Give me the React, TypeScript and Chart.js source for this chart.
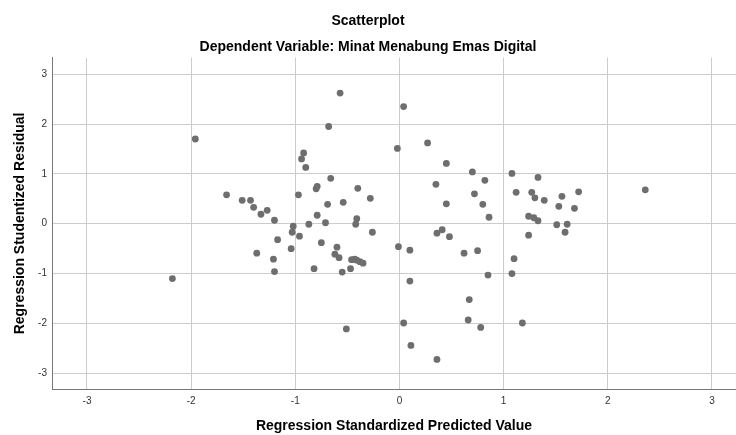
import React, { useEffect, useRef } from "react";
import { Chart, registerables } from "chart.js";

Chart.register(...registerables);

const titleText = "Scatterplot";
const subtitleText = "Dependent Variable: Minat Menabung Emas Digital";
const xAxisTitle = "Regression Standardized Predicted Value";
const yAxisTitle = "Regression Studentized Residual";

const xTicks = [-3, -2, -1, 0, 1, 2, 3];
const yTicks = [-3, -2, -1, 0, 1, 2, 3];

// Regression standardized predicted values
const predicted = [
  -2.18, -1.96, -1.66, -1.51, -1.43, -1.4, -1.33, -1.27, -1.2, -1.17,
  -1.37, -1.21, -1.2, -1.04, -1.03, -1.02, -0.96, -0.97, -0.92, -0.94,
  -0.9, -0.87, -0.82, -0.8, -0.79, -0.79, -0.75, -0.71, -0.69, -0.68,
  -0.66, -0.62, -0.6, -0.58, -0.57, -0.55, -0.54, -0.51, -0.47, -0.46,
  -0.43, -0.41, -0.38, -0.35, -0.41, -0.42, -0.4, -0.28, -0.26,
  -0.02, 0.04, -0.01, 0.1, 0.1, 0.04, 0.11, 0.36, 0.27, 0.45,
  0.35, 0.45, 0.36, 0.41, 0.48, 0.62, 0.75, 0.7, 0.82, 0.72,
  0.8, 0.86, 0.85, 0.67, 0.66, 0.78,
  1.08, 1.12, 1.1, 1.08, 1.18, 1.33, 1.27, 1.3, 1.39, 1.56,
  1.72, 1.53, 1.68, 1.24, 1.29, 1.33, 1.51, 1.61, 1.59, 1.24, 2.36,
];

// Regression studentized residuals
const residual = [
  -1.1, 1.7, 0.58, 0.47, 0.47, 0.33, 0.19, 0.27, 0.07, -0.32,
  -0.59, -0.71, -0.96, -0.5, -0.17, -0.05, -0.25, 0.58, 1.42, 1.3,
  1.13, -0.01, -0.9, 0.7, 0.75, 0.17, -0.38, 0.02, 0.39, 1.95,
  0.91, -0.61, -0.47, -0.68, 2.62, -0.97, 0.43, -2.11, -0.9, -0.72,
  -0.71, -0.73, -0.76, -0.79, 0.1, -0.01, 0.71, 0.51, -0.17,
  1.51, 2.35, -0.46, -0.53, -1.15, -1.99, -2.44, -2.72, 1.62, 1.21,
  0.79, 0.4, -0.19, -0.12, -0.26, -0.59, -0.54, 1.04, 0.87, 0.6,
  0.39, 0.13, -1.03, -1.52, -1.93, -2.08,
  1.01, 0.63, -0.7, -1.0, -1.99, 0.93, 0.63, 0.52, 0.47, 0.55,
  0.64, 0.35, 0.31, 0.15, 0.12, 0.06, -0.02, -0.01, -0.17, -0.23, 0.68,
];

const FONT = "'Liberation Sans', Arial, sans-serif";

export default function App() {
  const ref = useRef<HTMLCanvasElement | null>(null);

  useEffect(() => {
    document.body.style.margin = "0";
    const canvas = ref.current;
    if (!canvas) return;
    const points = predicted.map((x, i) => ({ x, y: residual[i] }));
    const chart = new Chart(canvas, {
      type: "scatter",
      data: {
        datasets: [
          {
            data: points,
            backgroundColor: "#6e6e6e",
            borderWidth: 0,
            pointRadius: 3.4,
            pointHoverRadius: 3.4,
          },
        ],
      },
      options: {
        responsive: false,
        animation: false,
        devicePixelRatio: 1,
        layout: { autoPadding: false, padding: { left: 0, right: 0, top: 0, bottom: 0 } },
        plugins: {
          legend: { display: false },
          tooltip: { enabled: false },
          title: {
            display: true,
            text: titleText,
            color: "#000",
            font: { family: FONT, size: 14, weight: "bold" },
            padding: { top: 12.3, bottom: 5 },
          },
          subtitle: {
            display: true,
            text: subtitleText,
            color: "#000",
            font: { family: FONT, size: 14, weight: "bold" },
            padding: { top: 5, bottom: 2 },
          },
        },
        scales: {
          x: {
            type: "linear",
            min: -3.336,
            max: 3.231,
            afterBuildTicks: (axis: any) => {
              axis.ticks = xTicks.map((v) => ({ value: v }));
            },
            afterFit: (scale: any) => {
              scale.height = 46;
            },
            grid: { color: "#cccccc", lineWidth: 1, drawTicks: false },
            border: { display: true, color: "#777777", width: 1 },
            ticks: {
              color: "#333",
              font: { family: FONT, size: 10 },
              padding: 6,
              maxRotation: 0,
            },
            title: {
              display: true,
              text: xAxisTitle,
              color: "#000",
              font: { family: FONT, size: 14, weight: "bold" },
              padding: { top: 0, bottom: 0 },
            },
          },
          y: {
            type: "linear",
            min: -3.314,
            max: 3.326,
            afterBuildTicks: (axis: any) => {
              axis.ticks = yTicks.map((v) => ({ value: v }));
            },
            afterFit: (scale: any) => {
              scale.width = 52;
            },
            grid: { color: "#cccccc", lineWidth: 1, drawTicks: false },
            border: { display: true, color: "#777777", width: 1 },
            ticks: {
              color: "#333",
              font: { family: FONT, size: 10 },
              padding: 5,
            },
            title: {
              display: true,
              text: yAxisTitle,
              color: "#000",
              font: { family: FONT, size: 14, weight: "bold" },
              padding: { top: 12, bottom: 0 },
            },
          },
        },
      },
    });
    return () => chart.destroy();
  }, []);

  return (
    <div style={{ width: 736, height: 435 }}>
      <canvas ref={ref} width={736} height={435} style={{ display: "block" }} />
    </div>
  );
}
